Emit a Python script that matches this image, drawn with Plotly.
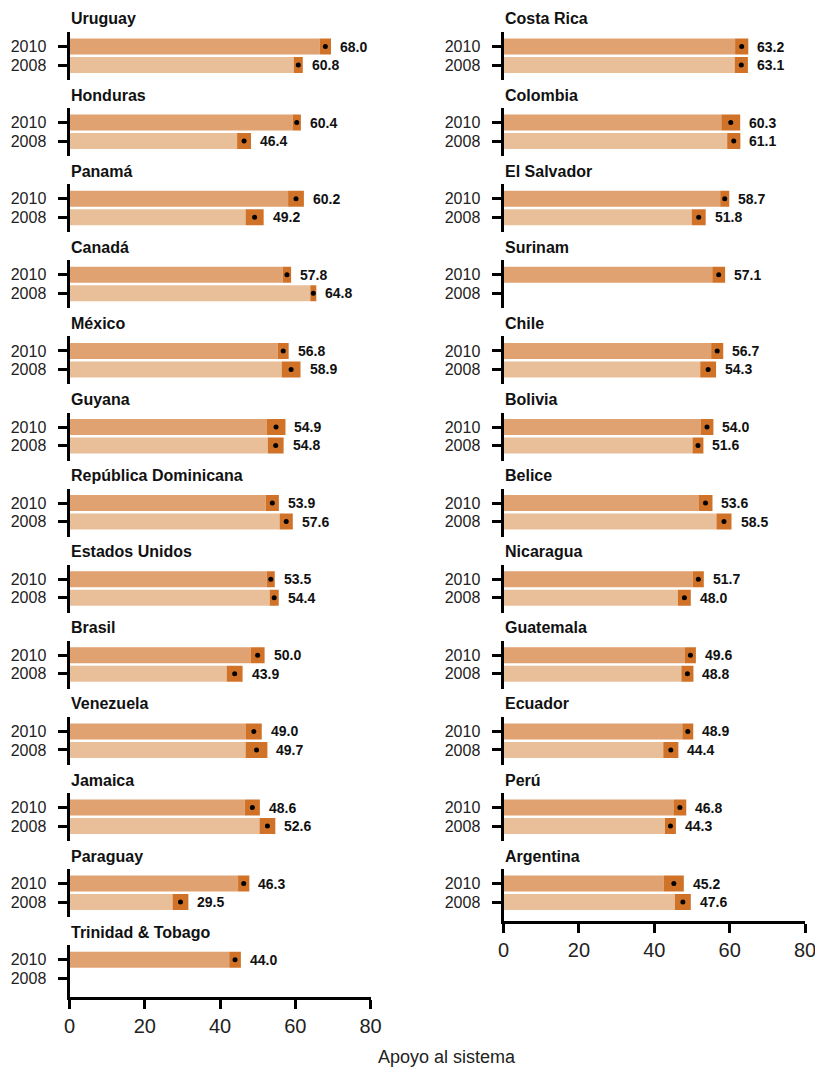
import plotly.graph_objects as go

# ---------------- data ----------------
left_countries = ["Uruguay", "Honduras", "Panamá", "Canadá", "México", "Guyana",
                  "República Dominicana", "Estados Unidos", "Brasil", "Venezuela",
                  "Jamaica", "Paraguay", "Trinidad & Tobago"]
left_2010 = [68.0, 60.4, 60.2, 57.8, 56.8, 54.9, 53.9, 53.5, 50.0, 49.0, 48.6, 46.3, 44.0]
left_2008 = [60.8, 46.4, 49.2, 64.8, 58.9, 54.8, 57.6, 54.4, 43.9, 49.7, 52.6, 29.5, None]
left_err_2010 = [1.5, 1.1, 2.1, 1.1, 1.45, 2.5, 1.75, 1.05, 1.85, 2.1, 2.0, 1.5, 1.55]
left_err_2008 = [1.2, 1.85, 2.4, 0.8, 2.5, 2.1, 1.75, 1.2, 2.1, 2.9, 2.1, 2.1, None]

right_countries = ["Costa Rica", "Colombia", "El Salvador", "Surinam", "Chile", "Bolivia",
                   "Belice", "Nicaragua", "Guatemala", "Ecuador", "Perú", "Argentina"]
right_2010 = [63.2, 60.3, 58.7, 57.1, 56.7, 54.0, 53.6, 51.7, 49.6, 48.9, 46.8, 45.2]
right_2008 = [63.1, 61.1, 51.8, None, 54.3, 51.6, 58.5, 48.0, 48.8, 44.4, 44.3, 47.6]
right_err_2010 = [1.75, 2.5, 1.2, 1.7, 1.6, 1.7, 1.85, 1.45, 1.45, 1.45, 1.7, 2.65]
right_err_2008 = [1.75, 1.75, 1.85, None, 2.1, 1.45, 2.0, 1.7, 1.6, 2.0, 1.45, 2.1]

years = ["2010", "2008"]
x_ticks = [0, 20, 40, 60, 80]
x_title = "Apoyo al sistema"

# ---------------- style ----------------
W, H = 815, 1067
C2010 = "#E0A270"
C2008 = "#E8BF98"
CCI = "#D07328"
FONT = "Liberation Sans, Arial, sans-serif"

fig = go.Figure()
layout = dict(
    width=W, height=H, margin=dict(l=0, r=0, t=0, b=0, autoexpand=False),
    plot_bgcolor="white", paper_bgcolor="white",
    showlegend=False, barmode="overlay",
    font=dict(family=FONT, color="#222"),
)
annotations = []

columns = [
    (left_countries, left_2010, left_2008, left_err_2010, left_err_2008, 69.5, 370.5),
    (right_countries, right_2010, right_2008, right_err_2010, right_err_2008, 503.5, 805.0),
]
pitch = 76.1
top0 = 32.0
unit = 18.5  # px per y unit

idx = 0
for countries, v10, v08, e10, e08, x0, x1 in columns:
    n = len(countries)
    for i in range(n):
        idx += 1
        xa = "x" if idx == 1 else f"x{idx}"
        ya = "y" if idx == 1 else f"y{idx}"
        xkey = "xaxis" if idx == 1 else f"xaxis{idx}"
        ykey = "yaxis" if idx == 1 else f"yaxis{idx}"
        last = (i == n - 1)
        top = top0 + pitch * i
        bottom = top + (52 if last else 48)
        upper = 1 + 14.5 / unit
        lower = upper - (bottom - top) / unit

        vals = [v10[i], v08[i]]
        errs = [e10[i], e08[i]]
        ypos = [1, 0]
        cols = [C2010, C2008]
        bx, by, bc, cx, cb, cy, dx, dy = [], [], [], [], [], [], [], []
        for v, e, yy, c in zip(vals, errs, ypos, cols):
            if v is None:
                continue
            lo, hi = v - e, v + e
            bx.append(lo); by.append(yy); bc.append(c)
            cx.append(hi - lo); cb.append(lo); cy.append(yy)
            dx.append(v); dy.append(yy)
            annotations.append(dict(
                x=hi, y=yy, xref=xa, yref=ya, xanchor="left", yanchor="middle",
                xshift=7, text=f"<b>{v:.1f}</b>", showarrow=False,
                font=dict(family=FONT, size=14, color="#111")))
        fig.add_trace(go.Bar(x=bx, y=by, base=0, orientation="h", width=0.865,
                             marker=dict(color=bc, line=dict(width=0)),
                             xaxis=xa, yaxis=ya, hoverinfo="skip"))
        fig.add_trace(go.Bar(x=cx, y=cy, base=cb, orientation="h", width=0.865,
                             marker=dict(color=CCI, line=dict(width=0)),
                             xaxis=xa, yaxis=ya, hoverinfo="skip"))
        fig.add_trace(go.Scatter(x=dx, y=dy, mode="markers",
                                 marker=dict(size=5, color="black"),
                                 xaxis=xa, yaxis=ya, hoverinfo="skip"))

        layout[xkey] = dict(
            domain=[x0 / W, x1 / W], range=[0, 80], anchor=ya, automargin=False,
            showgrid=False, zeroline=False,
            showline=last, linewidth=3, linecolor="black",
            ticks="outside" if last else "", ticklen=9, tickwidth=3, tickcolor="black",
            tickvals=x_ticks, showticklabels=last, ticklabeloverflow="allow",
            tickfont=dict(family=FONT, size=20, color="#222"),
            ticklabelstandoff=0, fixedrange=True,
        )
        layout[ykey] = dict(
            domain=[1 - bottom / H, 1 - top / H], range=[lower, upper], anchor=xa,
            automargin=False, ticklabeloverflow="allow",
            showgrid=False, zeroline=False,
            showline=True, linewidth=3, linecolor="black",
            ticks="outside", ticklen=9, tickwidth=3, tickcolor="black",
            tickvals=[1, 0], ticktext=years,
            tickfont=dict(family=FONT, size=16, color="#222"),
            ticklabelstandoff=8, fixedrange=True,
        )
        annotations.append(dict(
            x=(x0 - 0.5) / W, y=1 - (top - 13) / H, xref="paper", yref="paper",
            xanchor="left", yanchor="middle", text=f"<b>{countries[i]}</b>",
            showarrow=False, font=dict(family=FONT, size=16, color="#111")))

annotations.append(dict(
    x=447 / W, y=1 - 1057 / H, xref="paper", yref="paper",
    xanchor="center", yanchor="middle", text=x_title, showarrow=False,
    font=dict(family=FONT, size=18, color="#222")))

layout["annotations"] = annotations
fig.update_layout(**layout)
fig.write_html("out.html", config={"displayModeBar": False})
